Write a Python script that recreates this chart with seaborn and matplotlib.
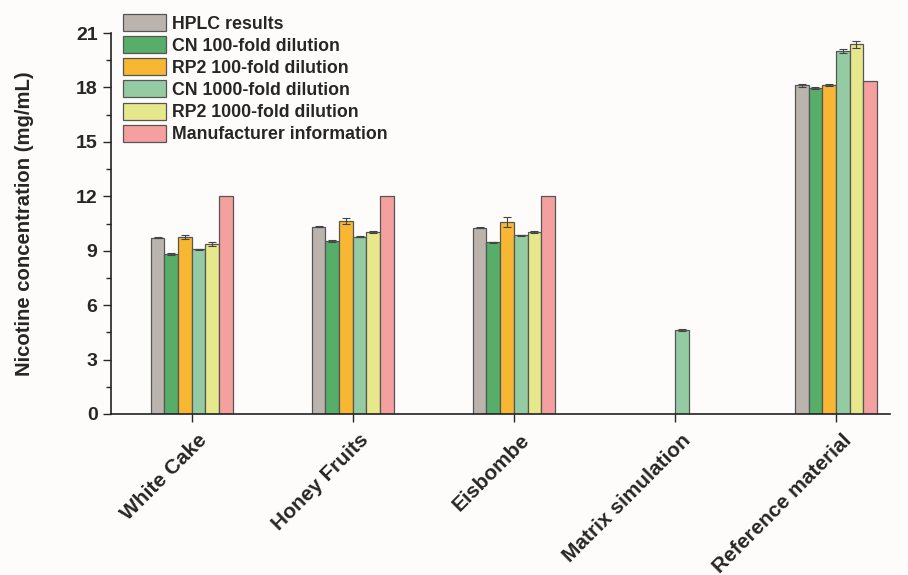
import matplotlib.pyplot as plt
import matplotlib.ticker as mticker
import matplotlib.transforms as mtransforms
import numpy as np
import pandas as pd
import seaborn as sns

plt.close("all")

samples = ["White Cake", "Honey Fruits", "Eisbombe", "Matrix simulation", "Reference material"]
methods = ["HPLC results", "CN 100-fold dilution", "RP2 100-fold dilution",
           "CN 1000-fold dilution", "RP2 1000-fold dilution", "Manufacturer information"]

hplc = [9.72, 10.32, 10.26, np.nan, 18.12]
cn100 = [8.82, 9.53, 9.47, np.nan, 17.96]
rp2_100 = [9.74, 10.66, 10.58, np.nan, 18.15]
cn1000 = [9.08, 9.77, 9.85, 4.62, 20.0]
rp2_1000 = [9.37, 10.02, 10.03, np.nan, 20.38]
manuf = [12.0, 12.0, 12.0, np.nan, 18.38]

hplc_err = [0.03, 0.03, 0.03, np.nan, 0.08]
cn100_err = [0.03, 0.04, 0.03, np.nan, 0.05]
rp2_100_err = [0.12, 0.16, 0.28, np.nan, 0.05]
cn1000_err = [0.03, 0.03, 0.03, 0.06, 0.1]
rp2_1000_err = [0.1, 0.04, 0.06, np.nan, 0.2]
manuf_err = [0, 0, 0, np.nan, 0]

colors = ["#bab4ad", "#56ae69", "#f8b733", "#95cba3", "#e7e88b", "#f4a09f"]

values = [hplc, cn100, rp2_100, cn1000, rp2_1000, manuf]
errors = [hplc_err, cn100_err, rp2_100_err, cn1000_err, rp2_1000_err, manuf_err]

rows = []
for m, vals, errs in zip(methods, values, errors):
    for s, v, e in zip(samples, vals, errs):
        rows.append({"Sample": s, "Method": m, "Value": v, "Err": e})
df = pd.DataFrame(rows)

sns.set_style("ticks")
plt.rcParams["font.family"] = ["Liberation Sans", "DejaVu Sans"]
plt.rcParams["font.weight"] = "bold"

fig = plt.figure(figsize=(9.08, 5.75), dpi=100)
fig.patch.set_facecolor("#fdfcfa")
ax = fig.add_axes([0.122, 0.28, 0.858, 0.6626])
ax.set_facecolor("#fdfcfa")

sns.barplot(data=df, x="Sample", y="Value", hue="Method", order=samples,
            hue_order=methods, palette=colors, width=0.51, errorbar=None,
            edgecolor="#555555", linewidth=0.9, saturation=1, ax=ax)

# error bars: find the sample of each bar from its x position
for i, m in enumerate(methods):
    sub = df[df["Method"] == m].set_index("Sample")
    for bar in ax.containers[i]:
        xc = bar.get_x() + bar.get_width() / 2
        s = samples[int(round(xc))]
        v = sub.loc[s, "Value"]
        e = sub.loc[s, "Err"]
        if np.isnan(v) or e == 0:
            continue
        ax.errorbar(xc, v, yerr=e, fmt="none", ecolor="#444444",
                    elinewidth=0.8, capsize=3, capthick=0.8)

ax.set_ylim(0, 21)
ax.set_xlim(-0.503, 4.335)
ax.yaxis.set_major_locator(mticker.MultipleLocator(3))
ax.yaxis.set_minor_locator(mticker.MultipleLocator(1.5))
ax.tick_params(axis="y", which="major", length=6, width=1, labelsize=14)
ax.tick_params(axis="y", which="minor", length=3.5, width=1)
ax.tick_params(axis="x", length=6, width=1, labelsize=15, pad=6)
for lab in ax.get_yticklabels():
    lab.set_fontweight("bold")
shift = mtransforms.ScaledTranslation(6 / 100, 0, fig.dpi_scale_trans)
for lab in ax.get_xticklabels():
    lab.set_rotation(45)
    lab.set_ha("right")
    lab.set_va("top")
    lab.set_rotation_mode("anchor")
    lab.set_fontweight("bold")
    lab.set_transform(lab.get_transform() + shift)

ax.set_xlabel("")
ax.set_ylabel("Nicotine concentration (mg/mL)", fontsize=14.6, fontweight="bold",
              labelpad=30)
sns.despine(ax=ax)
for sp in ["left", "bottom"]:
    ax.spines[sp].set_linewidth(1.2)
    ax.spines[sp].set_color("#222222")

ax.legend(loc="upper left", bbox_to_anchor=(0.128, 0.988),
          bbox_transform=fig.transFigure, frameon=False,
          handlelength=2.4, handleheight=1.1, labelspacing=0.2,
          handletextpad=0.35, borderaxespad=0, prop={"weight": "bold", "size": 12.8})

fig.savefig("out.png", dpi=100, facecolor=fig.get_facecolor())
